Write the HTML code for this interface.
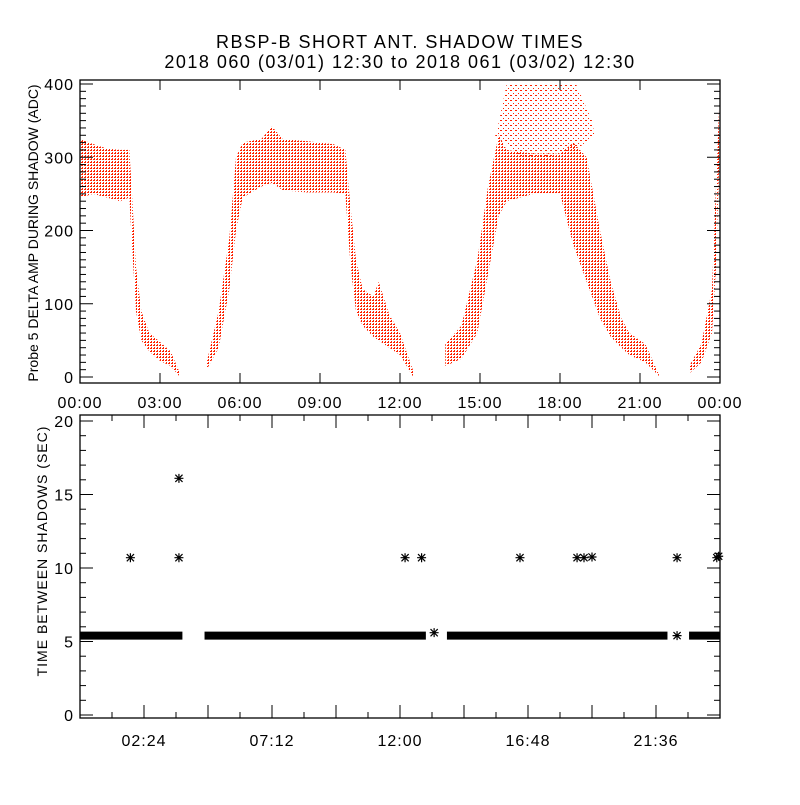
<!DOCTYPE html>
<html><head><meta charset="utf-8"><style>
body{margin:0;background:#fff}
svg text{font-family:"Liberation Sans",sans-serif;fill:#000}
</style></head><body>
<svg id="c" width="800" height="800" viewBox="0 0 800 800">
<defs>
<pattern id="dots" width="3" height="3" patternUnits="userSpaceOnUse"><rect x="0" y="0" width="2" height="1" fill="#ff2200"/><rect x="1" y="2" width="1" height="1" fill="#ff2200"/></pattern>
<pattern id="sparse" width="5" height="5" patternUnits="userSpaceOnUse"><rect x="0" y="0" width="2" height="1" fill="#ff2200"/><rect x="3" y="3" width="1" height="1" fill="#ff2200"/></pattern>
</defs>
<text x="400" y="48" text-anchor="middle" font-size="18" letter-spacing="1.5">RBSP-B SHORT ANT. SHADOW TIMES</text>
<text x="400" y="68" text-anchor="middle" font-size="18" letter-spacing="1.5">2018 060 (03/01) 12:30 to 2018 061 (03/02) 12:30</text>
<g id="topPanel"></g>
<g id="botPanel"></g>
<text transform="translate(38,233) rotate(-90)" text-anchor="middle" font-size="14">Probe 5 DELTA AMP DURING SHADOW (ADC)</text>
<text transform="translate(47,551) rotate(-90)" text-anchor="middle" font-size="14" letter-spacing="1">TIME BETWEEN SHADOWS (SEC)</text>
</svg>
<script>
// Top panel bands (hours, upper ADC, lower ADC)
const segATime=[0,0.5,1.0,1.5,1.85,1.95,2.1,2.3,2.6,3.0,3.4,3.75];
const segAUpper=[325,318,312,310,310,250,150,90,60,48,35,5];
const segALower=[245,250,245,240,245,180,90,50,35,22,15,0];
const segBTime=[4.75,5.2,5.6,5.85,6.1,6.8,7.2,7.6,8.5,9.5,9.95,10.15,10.35,10.6,11.0,11.2,11.6,12.0,12.5];
const segBUpper=[20,90,190,300,320,325,342,325,322,318,310,230,160,120,110,130,85,60,8];
const segBLower=[10,40,120,200,245,260,265,255,252,252,250,150,90,70,55,50,40,30,0];
const segCTime=[13.7,14.3,14.9,15.3,15.7,16.0,17.0,18.0,18.5,19.0,19.5,19.9,20.3,20.6,21.2,21.75];
const segCUpper=[45,70,160,260,330,310,305,305,320,300,200,130,80,60,45,0];
const segCLower=[15,25,60,140,220,240,250,250,180,130,80,55,40,30,20,0];
// sparse high-amplitude cloud around 15:30-19:00
const cloudTime=[15.6,16.0,17.0,18.0,18.6,19.2,19.3,18.6,17.5,16.5,15.9,15.5];
const cloudUpper=[330,400,400,400,400,350];
const cloudLower=[330,310,300,300,320,330];
const segDTime=[22.85,23.3,23.7,23.85,24];
const segDUpper=[15,45,120,260,400];
const segDLower=[5,20,60,150,330];
// Bottom panel: continuous runs of ~5.4 s, and outliers
const runStart=[0,4.67,13.76,22.84];
const runEnd=[3.84,12.97,22.03,24];
const runValue=[5.4,5.4,5.4,5.4];
const outHour=[1.89,3.71,3.71,12.19,12.81,13.28,16.5,18.64,18.9,19.2,22.39,22.39,23.88,23.95];
const outValue=[10.7,10.7,16.1,10.7,10.7,5.6,10.7,10.7,10.7,10.75,10.7,5.4,10.7,10.8];
const topXLabels=["00:00","03:00","06:00","09:00","12:00","15:00","18:00","21:00","00:00"];
const topYTicks=[0,100,200,300,400];
const botXLabels=["02:24","07:12","12:00","16:48","21:36"];
const botYTicks=[0,5,10,15,20];

const NS="http://www.w3.org/2000/svg";
const L=80,R=720;
const xH=h=>L+h*(R-L)/24;
const yT=v=>377-v*(293/400);
const yB=v=>715-v*(294/20);
function mk(p,tag,a){const e=document.createElementNS(NS,tag);for(const k in a)e.setAttribute(k,a[k]);p.appendChild(e);return e;}
const topG=document.getElementById('topPanel'),botG=document.getElementById('botPanel');

[[segATime,segAUpper,segALower,'band-segment-a','dots'],[segBTime,segBUpper,segBLower,'band-segment-b','dots'],[segCTime,segCUpper,segCLower,'band-segment-c','dots'],[segDTime,segDUpper,segDLower,'band-segment-d','dots']].forEach(s=>{
  const pts=[];
  s[0].forEach((t,i)=>pts.push(xH(t)+','+yT(s[1][i])));
  for(let i=s[0].length-1;i>=0;i--)pts.push(xH(s[0][i])+','+yT(s[2][i]));
  const e=mk(topG,'polygon',{points:pts.join(' '),fill:'url(#'+s[4]+')'});
  
  
});
{
  const pts=[];
  cloudUpper.forEach((v,i)=>pts.push(xH(cloudTime[i])+','+yT(v)));
  cloudLower.forEach((v,i)=>pts.push(xH(cloudTime[6+i])+','+yT(v)));
  const e=mk(topG,'polygon',{points:pts.join(' '),fill:'url(#sparse)'});
  
  
}
let f=mk(topG,'rect',{x:L,y:80,width:R-L,height:303,fill:'none',stroke:'#000','stroke-width':'1.3'});


for(let v=0;v<=400;v+=10){const maj=v%100===0,len=maj?13:6;
  mk(topG,'line',{x1:L,x2:L+len,y1:yT(v),y2:yT(v),stroke:'#000'});
  mk(topG,'line',{x1:R,x2:R-len,y1:yT(v),y2:yT(v),stroke:'#000'});}
topYTicks.forEach(v=>{const t=mk(topG,'text',{x:L-6,y:yT(v)+6,'text-anchor':'end','font-size':'16','letter-spacing':'1'});t.textContent=v;
  
  });
topXLabels.forEach((s,i)=>{const x=xH(i*3);
  mk(topG,'line',{x1:x,x2:x,y1:383,y2:373,stroke:'#000'});mk(topG,'line',{x1:x,x2:x,y1:80,y2:90,stroke:'#000'});
  const t=mk(topG,'text',{x:x,y:408,'text-anchor':'middle','font-size':'16','letter-spacing':'1'});t.textContent=s;
  
  });

runStart.forEach((s,i)=>{
  const e=mk(botG,'rect',{x:xH(s),y:yB(runValue[i])-4,width:xH(runEnd[i])-xH(s),height:8,fill:'#000'});
  
  
});
outHour.forEach((h,i)=>{
  const cx=xH(h),cy=yB(outValue[i]),r=4.5;
  const d=`M${cx-r},${cy}H${cx+r}M${cx},${cy-r}V${cy+r}M${cx-r*.8},${cy-r*.8}L${cx+r*.8},${cy+r*.8}M${cx-r*.8},${cy+r*.8}L${cx+r*.8},${cy-r*.8}`;
  const e=mk(botG,'path',{d:d,stroke:'#000','stroke-width':'1.2',fill:'none'});
  
  
});
f=mk(botG,'rect',{x:L,y:415,width:R-L,height:303,fill:'none',stroke:'#000','stroke-width':'1.3'});


for(let v=0;v<=20;v+=1){const maj=v%5===0,len=maj?13:6;
  mk(botG,'line',{x1:L,x2:L+len,y1:yB(v),y2:yB(v),stroke:'#000'});
  mk(botG,'line',{x1:R,x2:R-len,y1:yB(v),y2:yB(v),stroke:'#000'});}
botYTicks.forEach(v=>{const t=mk(botG,'text',{x:L-6,y:yB(v)+6,'text-anchor':'end','font-size':'16','letter-spacing':'1'});t.textContent=v;
  
  });
for(let k=1;k<20;k++){const x=xH(k*1.2),len=k%2===0?13:6;
  mk(botG,'line',{x1:x,x2:x,y1:718,y2:718-len,stroke:'#000'});mk(botG,'line',{x1:x,x2:x,y1:415,y2:415+len,stroke:'#000'});}
botXLabels.forEach((s,i)=>{const t=mk(botG,'text',{x:xH(2.4+i*4.8),y:746,'text-anchor':'middle','font-size':'16','letter-spacing':'1'});t.textContent=s;
  
  });
</script>
</body></html>
